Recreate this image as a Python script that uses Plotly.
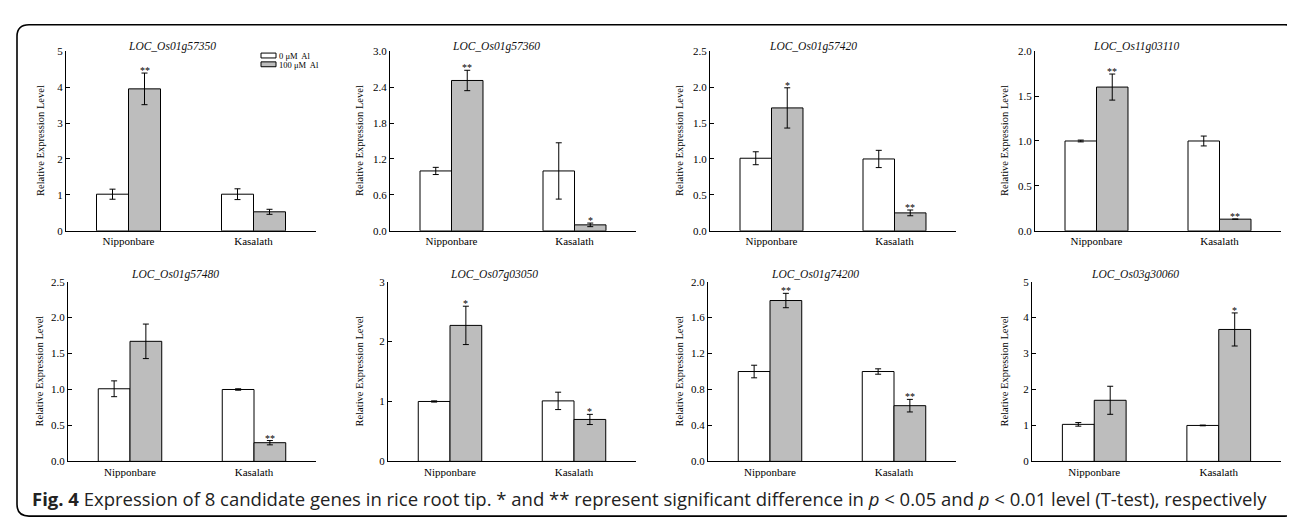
import plotly.graph_objects as go

W, H = 1295, 518

genes = ["LOC_Os01g57350", "LOC_Os01g57360", "LOC_Os01g57420", "LOC_Os11g03110",
         "LOC_Os01g57480", "LOC_Os07g03050", "LOC_Os01g74200", "LOC_Os03g30060"]
cultivars = ["Nipponbare", "Kasalath"]

ctrl_mean = [[1.02, 1.02], [1.00, 1.00], [1.01, 1.00], [1.00, 1.00],
             [1.01, 1.00], [1.00, 1.01], [1.00, 1.00], [1.03, 1.00]]
ctrl_err = [[0.14, 0.15], [0.06, 0.47], [0.09, 0.12], [0.01, 0.055],
            [0.11, 0.01], [0.01, 0.145], [0.07, 0.03], [0.05, 0.01]]
al_mean = [[3.95, 0.53], [2.51, 0.10], [1.71, 0.25], [1.60, 0.13],
           [1.67, 0.26], [2.27, 0.70], [1.79, 0.62], [1.70, 3.67]]
al_err = [[0.44, 0.07], [0.17, 0.03], [0.28, 0.04], [0.145, 0.0],
          [0.24, 0.03], [0.32, 0.085], [0.08, 0.07], [0.39, 0.46]]
al_sig = [["**", ""], ["**", "*"], ["*", "**"], ["**", "**"],
          ["", "**"], ["*", "*"], ["**", "**"], ["", "*"]]

y_max = [5, 3.0, 2.5, 2.0, 2.5, 3, 2.0, 5]
y_dtick = [1, 0.6, 0.5, 0.5, 0.5, 1, 0.4, 1]
y_fmt = ["d", ".1f", ".1f", ".1f", ".1f", "d", ".1f", "d"]

legend_names = ["0 \u03bcM  Al", "100 \u03bcM  Al"]

# layout geometry (pixels)
x_px = [(58, 308), (382, 628), (702, 948), (1027, 1273),
        (60, 308), (380, 628), (700, 948), (1024, 1273)]
row_px = [(38, 222), (274, 458)]
title_x_px = [164, 488, 805, 1128, 167, 486, 807, 1127]
ytitle_x_px = [33, 352, 672, 997, 32, 352, 672, 997]

SERIF = "Liberation Serif"
GRAY = "#bdbdbd"
BW = 0.256


def px(x):
    return x / W


def py(y):
    return 1 - y / H


fig = go.Figure()
annotations = []
shapes = []

for i in range(8):
    n = i + 1
    xa = "x" if n == 1 else f"x{n}"
    ya = "y" if n == 1 else f"y{n}"
    row = 0 if i < 4 else 1
    fig.add_trace(go.Bar(
        x=cultivars, y=ctrl_mean[i], width=BW, offset=-BW,
        marker=dict(color="white", line=dict(color="black", width=1)),
        error_y=dict(type="data", array=ctrl_err[i], color="black", thickness=1, width=3),
        xaxis=xa, yaxis=ya, showlegend=False, name=legend_names[0]))
    fig.add_trace(go.Bar(
        x=cultivars, y=al_mean[i], width=BW, offset=0,
        marker=dict(color=GRAY, line=dict(color="black", width=1)),
        error_y=dict(type="data", array=al_err[i], color="black", thickness=1, width=3),
        xaxis=xa, yaxis=ya, showlegend=False, name=legend_names[1]))

    x0, x1 = x_px[i]
    yt, yb = row_px[row]
    axis_common = dict(showline=True, linecolor="black", linewidth=1, showgrid=False,
                       zeroline=False, tickfont=dict(family=SERIF, size=11, color="black"))
    fig.update_layout(**{
        ("xaxis" if n == 1 else f"xaxis{n}"): dict(
            domain=[px(x0), px(x1)], anchor=ya, type="category", range=[-0.5, 1.5],
            ticks="", **axis_common),
        ("yaxis" if n == 1 else f"yaxis{n}"): dict(
            domain=[py(yb), py(yt)], anchor=xa, range=[0, y_max[i]], dtick=y_dtick[i],
            tick0=0, tickformat=y_fmt[i], ticks="inside", ticklen=4, tickcolor="black",
            **axis_common),
    })

    # panel title
    annotations.append(dict(
        text=f"<i>{genes[i]}</i>", x=px(title_x_px[i]), y=py(33 if row == 0 else 267),
        xref="paper", yref="paper", showarrow=False, xanchor="center", yanchor="middle",
        font=dict(family=SERIF, size=11.5, color="#111")))
    # y-axis title
    annotations.append(dict(
        text="Relative Expression Level", x=px(ytitle_x_px[i]), y=py((yt + yb) / 2),
        xref="paper", yref="paper", showarrow=False, textangle=-90,
        xanchor="center", yanchor="middle", font=dict(family=SERIF, size=10.5, color="black")))
    # significance marks
    for j in range(2):
        if al_sig[i][j]:
            annotations.append(dict(
                text=al_sig[i][j], x=j + BW / 2, y=al_mean[i][j] + al_err[i][j],
                xref=xa, yref=ya, showarrow=False, xanchor="center", yanchor="bottom",
                yshift=-5, font=dict(family=SERIF, size=10, color="black")))

# legend (first panel)
leg_items = [("white", 40, 45, 43), (GRAY, 49, 54, 52)]
for (col, ya0, ya1, yc), name in zip(leg_items, legend_names):
    shapes.append(dict(type="rect", xref="paper", yref="paper",
                       x0=px(253), x1=px(268), y0=py(ya1), y1=py(ya0),
                       fillcolor=col, line=dict(color="black", width=1)))
    annotations.append(dict(text=name, x=px(269), y=py(yc), xref="paper", yref="paper",
                            showarrow=False, xanchor="left", yanchor="middle",
                            font=dict(family=SERIF, size=8.5, color="black")))

# rounded border
L, R, T, B, rr = 9, 1289, 11, 514, 12
path = (f"M {px(L + rr)},{py(T)} L {px(R - rr)},{py(T)} Q {px(R)},{py(T)} {px(R)},{py(T + rr)} "
        f"L {px(R)},{py(B - rr)} Q {px(R)},{py(B)} {px(R - rr)},{py(B)} "
        f"L {px(L + rr)},{py(B)} Q {px(L)},{py(B)} {px(L)},{py(B - rr)} "
        f"L {px(L)},{py(T + rr)} Q {px(L)},{py(T)} {px(L + rr)},{py(T)} Z")
shapes.append(dict(type="path", path=path, xref="paper", yref="paper",
                   line=dict(color="black", width=1.6)))

# caption
annotations.append(dict(
    text=("<b>Fig. 4</b> Expression of 8 candidate genes in rice root tip. * and ** represent "
          "significant difference in <i>p</i> &lt; 0.05 and <i>p</i> &lt; 0.01 level (T-test), respectively"),
    x=px(22), y=py(496), xref="paper", yref="paper", showarrow=False,
    xanchor="left", yanchor="middle", font=dict(family="Open Sans", size=18.5, color="#222")))

fig.update_layout(
    width=W, height=H, margin=dict(l=0, r=0, t=0, b=0),
    paper_bgcolor="white", plot_bgcolor="white",
    barmode="overlay", showlegend=False,
    annotations=annotations, shapes=shapes,
)

fig.write_html("out.html")
